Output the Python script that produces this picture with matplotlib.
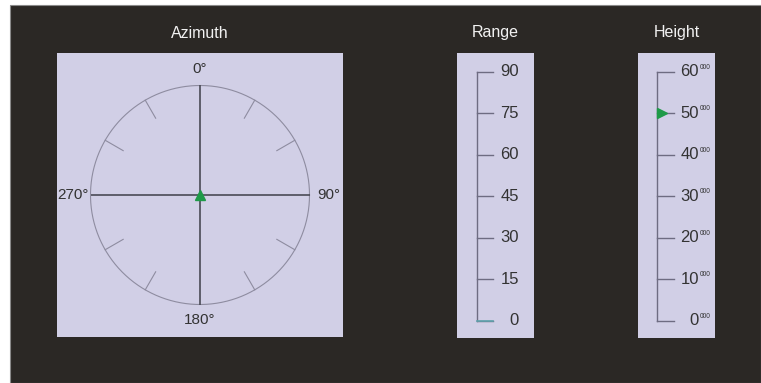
import matplotlib
matplotlib.use("Agg")
import matplotlib.pyplot as plt
import numpy as np
from matplotlib.patches import Rectangle

plt.rcParams['font.family'] = ['Liberation Sans', 'DejaVu Sans']

# ---- data ----
panel_titles = ["Azimuth", "Range", "Height"]
azimuth_labels = ["0°", "90°", "180°", "270°"]
azimuth_cardinals = [0, 90, 180, 270]
azimuth_minor_ticks = [30, 60, 120, 150, 210, 240, 300, 330]
azimuth_value = 0.0          # marker at centre
range_ticks = [0, 15, 30, 45, 60, 75, 90]
range_value = 0
height_ticks = [0, 10, 20, 30, 40, 50, 60]
height_tick_labels = ["0", "10", "20", "30", "40", "50", "60"]
height_suffix = "000"
height_value = 50

# ---- style ----
BG = '#2b2825'
PANEL = '#d1cfe6'
AXLINE = '#4a4a55'
CIRC = '#8e8ca0'
SCALE = '#6e6c82'
TXT = '#333333'
GREEN = '#1e9a48'
TEAL = '#5fa3ad'

W, H = 761, 383
fig = plt.figure(figsize=(W / 100, H / 100), dpi=100)
fig.patch.set_facecolor('white')
fig.add_artist(Rectangle((10 / W, 0), (W - 10) / W, (H - 5) / H,
                         transform=fig.transFigure, facecolor=BG,
                         edgecolor='#8a8a8a', lw=0.8, zorder=0))


def ax_at(x0, y0, x1, y1):
    ax = fig.add_axes([x0 / W, 1 - y1 / H, (x1 - x0) / W, (y1 - y0) / H])
    ax.set_facecolor(PANEL)
    for s in ax.spines.values():
        s.set_visible(False)
    ax.set_xticks([])
    ax.set_yticks([])
    return ax


# ---- titles ----
for t, xc in zip(panel_titles, [200, 495.5, 676.5]):
    fig.text(xc / W, 1 - 33 / H, t, color='#f2f2f2', fontsize=11.5,
             ha='center', va='center')

# ---- Azimuth ----
R = 109.5
ax = ax_at(57, 53, 343, 337)
ax.set_xlim(-143 / R, 143 / R)
ax.set_ylim(-142 / R, 142 / R)
th = np.linspace(0, 2 * np.pi, 400)
ax.plot(np.cos(th), np.sin(th), color=CIRC, lw=0.8)
for a in azimuth_cardinals:
    r = np.deg2rad(a)
    ax.plot([0, np.sin(r)], [0, np.cos(r)], color=AXLINE, lw=1.2,
            solid_capstyle='butt')
for a in azimuth_minor_ticks:
    r = np.deg2rad(a)
    ax.plot([0.81 * np.sin(r), np.sin(r)], [0.81 * np.cos(r), np.cos(r)],
            color=CIRC, lw=0.8)
label_pos = {0: (0, 1.155, 'center'), 90: (1.073, 0, 'left'),
             180: (0, -1.146, 'center'), 270: (-1.014, 0, 'right')}
for a, lab in zip(azimuth_cardinals, azimuth_labels):
    x, y, ha = label_pos[a]
    ax.text(x, y, lab, color=TXT, fontsize=11, ha=ha, va='center')
r = np.deg2rad(azimuth_value)
ax.plot([0], [0], marker='^', color=GREEN, ms=6.5, mec=GREEN)

# ---- Range ----
ax = ax_at(457, 53, 534, 338)
rp = 90 / 249.0
ax.set_xlim(0, 77)
ax.set_ylim(-(338 - 320.7) * rp, 90 + (71.7 - 53) * rp)
ax.plot([19.7, 19.7], [min(range_ticks), max(range_ticks)], color=SCALE, lw=1)
for v in range_ticks:
    ax.plot([19.7, 36], [v, v], color=SCALE, lw=1)
    ax.text(62, v, str(v), color=TXT, fontsize=12, ha='right', va='center')
ax.plot([19.7, 36], [range_value, range_value], color=TEAL, lw=1.2)

# ---- Height ----
ax = ax_at(638, 53, 715, 338)
hp = 60 / 249.0
ax.set_xlim(0, 77)
ax.set_ylim(-(338 - 320.7) * hp, 60 + (71.7 - 53) * hp)
ax.plot([19.3, 19.3], [min(height_ticks), max(height_ticks)], color=SCALE, lw=1)
for v, lab in zip(height_ticks, height_tick_labels):
    ax.plot([19.3, 36], [v, v], color=SCALE, lw=1)
    ax.text(61, v, lab, color=TXT, fontsize=12, ha='right', va='center')
    ax.text(61.5, v + 1.1, height_suffix, color=TXT, fontsize=4.8,
            ha='left', va='center')
ax.plot([23.5], [height_value], marker='>', color=GREEN, ms=7.5, mec=GREEN)

fig.savefig('out.png', dpi=100, facecolor=fig.get_facecolor())
